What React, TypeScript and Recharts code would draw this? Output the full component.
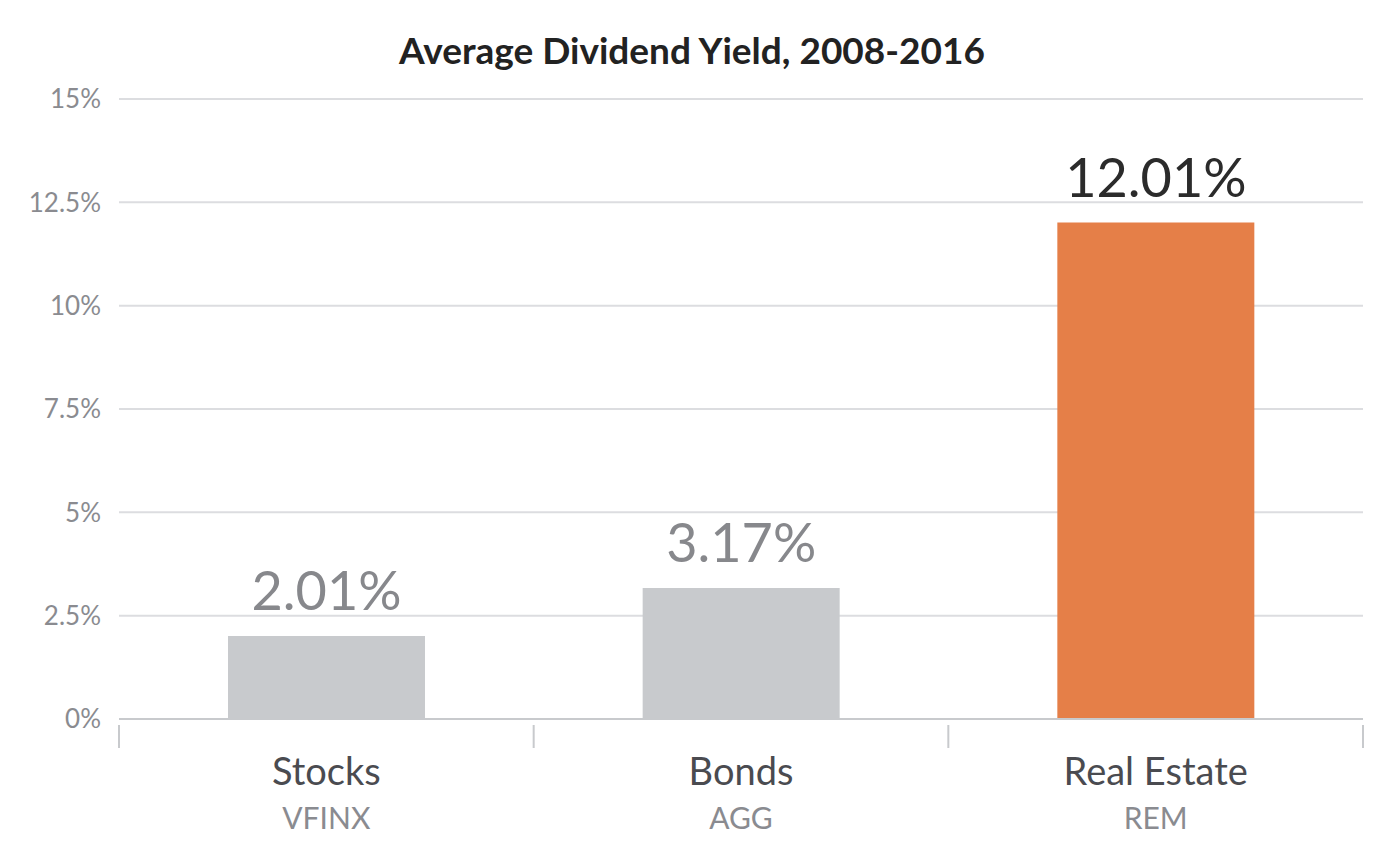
import React from "react";
import { Bar, BarChart, CartesianGrid, Cell, LabelList, XAxis, YAxis } from "recharts";

const categories = ["Stocks", "Bonds", "Real Estate"];
const tickers = ["VFINX", "AGG", "REM"];
const yields = [2.01, 3.17, 12.01];
const barColors = ["#c8cacd", "#c8cacd", "#e57f48"];
const labelColors = ["#87888c", "#87888c", "#2b2b2b"];
const yTicks = [0, 2.5, 5, 7.5, 10, 12.5, 15];

const W = 1400;
const H = 850;
const M = { top: 99, right: 37, bottom: 0, left: 0 };
const Y_AXIS_W = 119;
const X_AXIS_H = 131;
const FONT = "Lato, 'Open Sans', sans-serif";

const data = categories.map((name, i) => ({ name, ticker: tickers[i], value: yields[i] }));
const band = (W - M.left - M.right - Y_AXIS_W) / categories.length;

function CategoryTick(props: any) {
  const { x, y, payload, index } = props;
  const axisY = y;
  return (
    <g>
      <line x1={x - band / 2} x2={x - band / 2} y1={axisY} y2={axisY + 23} stroke="#c8cacd" strokeWidth={2} />
      {index === categories.length - 1 && (
        <line x1={x + band / 2} x2={x + band / 2} y1={axisY} y2={axisY + 23} stroke="#c8cacd" strokeWidth={2} />
      )}
      <text x={x} y={axisY + 60} textAnchor="middle" fontSize={38} fill="#4a4b50" fontFamily={FONT}>
        {payload.value}
      </text>
      <text x={x} y={axisY + 104} textAnchor="middle" fontSize={30} fill="#8a8b90" fontFamily={FONT}>
        {tickers[index]}
      </text>
    </g>
  );
}

function ValueLabel(props: any) {
  const { x, y, width, value, index } = props;
  return (
    <text
      x={x + width / 2}
      y={y - 26}
      textAnchor="middle"
      fontSize={54}
      fill={labelColors[index]}
      fontFamily={FONT}
    >
      {value.toFixed(2)}%
    </text>
  );
}

export default function App() {
  return (
    <div style={{ position: "absolute", left: 0, top: 0, width: W, height: H, background: "#fff", fontFamily: FONT }}>
      <div
        style={{
          position: "absolute",
          top: 27,
          left: 0,
          width: W - 16,
          textAlign: "center",
          fontSize: 37,
          fontWeight: 700,
          color: "#222",
        }}
      >
        Average Dividend Yield, 2008-2016
      </div>
      <BarChart width={W} height={H} data={data} margin={M} barCategoryGap={0}>
        <CartesianGrid vertical={false} stroke="#dcdde0" strokeWidth={2} />
        <XAxis
          dataKey="name"
          height={X_AXIS_H}
          axisLine={{ stroke: "#c8cacd", strokeWidth: 2 }}
          tickLine={false}
          tickMargin={0}
          interval={0}
          tick={<CategoryTick />}
        />
        <YAxis
          width={Y_AXIS_W}
          domain={[0, 15]}
          ticks={yTicks}
          axisLine={false}
          tickLine={false}
          tickMargin={12}
          tickFormatter={(v: number) => `${v}%`}
          tick={{ fontSize: 26, fill: "#8a8b90", fontFamily: FONT }}
        />
        <Bar dataKey="value" barSize={197} isAnimationActive={false}>
          {data.map((d, i) => (
            <Cell key={d.name} fill={barColors[i]} />
          ))}
          <LabelList dataKey="value" content={<ValueLabel />} />
        </Bar>
      </BarChart>
    </div>
  );
}
